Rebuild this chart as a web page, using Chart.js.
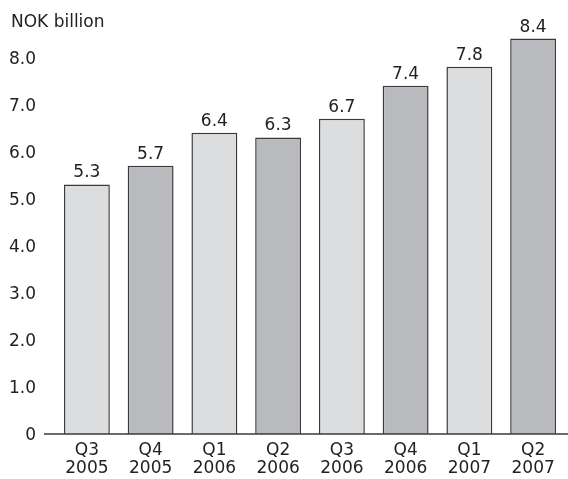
<!DOCTYPE html>
<html>
<head>
<meta charset="utf-8">
<script src="https://cdn.jsdelivr.net/npm/chart.js@4/dist/chart.umd.min.js"></script>
<style>
  html, body { margin: 0; padding: 0; background: #fff; }
  #wrap { width: 568px; height: 479px; position: relative; }
</style>
</head>
<body>
<div id="wrap"><canvas id="quarterChart"></canvas></div>
<script>
const quarters = [['Q3', '2005'], ['Q4', '2005'], ['Q1', '2006'], ['Q2', '2006'],
    ['Q3', '2006'], ['Q4', '2006'], ['Q1', '2007'], ['Q2', '2007']];
const revenue = [5.3, 5.7, 6.4, 6.3, 6.7, 7.4, 7.8, 8.4];
const yTicks = [0, 1, 2, 3, 4, 5, 6, 7, 8];
const unitLabel = 'NOK billion';

const lightFill = '#dcdddf';
const darkFill = '#b9babd';
const edgeColor = '#3a3a3a';
const textColor = '#222222';
const fontFamily = '"DejaVu Sans", sans-serif';

// Value labels above the bars, unit title and the baseline
const extrasPlugin = {
    id: 'extras',
    afterDatasetsDraw(chart) {
        const ctx = chart.ctx;
        const meta = chart.getDatasetMeta(0);
        ctx.save();
        ctx.fillStyle = textColor;
        ctx.font = '17px ' + fontFamily;
        ctx.textAlign = 'center';
        ctx.textBaseline = 'bottom';
        meta.data.forEach((bar, i) => {
            ctx.fillText(revenue[i].toFixed(1), bar.x, bar.y - 3);
        });
        ctx.textAlign = 'left';
        ctx.textBaseline = 'middle';
        ctx.fillText(unitLabel, 11, 23);

        const yZero = chart.scales.y.getPixelForValue(0);
        ctx.strokeStyle = edgeColor;
        ctx.lineWidth = 1.5;
        ctx.beginPath();
        ctx.moveTo(44, yZero);
        ctx.lineTo(chart.width, yZero);
        ctx.stroke();
        ctx.restore();
    }
};

new Chart(document.getElementById('quarterChart'), {
    type: 'bar',
    data: {
        labels: quarters,
        datasets: [{
            data: revenue,
            backgroundColor: revenue.map((v, i) => i % 2 === 0 ? lightFill : darkFill),
            borderColor: edgeColor,
            borderWidth: 1.5,
            borderSkipped: 'bottom',
            barPercentage: 0.72,
            categoryPercentage: 1.0
        }]
    },
    options: {
        responsive: true,
        maintainAspectRatio: false,
        animation: false,
        layout: {
            padding: {top: 29, right: 3, left: 0, bottom: 0}
        },
        plugins: {
            legend: {display: false},
            tooltip: {enabled: false}
        },
        scales: {
            x: {
                grid: {display: false, drawTicks: false},
                border: {display: false},
                ticks: {
                    color: textColor,
                    font: {family: fontFamily, size: 17, lineHeight: 1.08},
                    padding: 7,
                    maxRotation: 0,
                    autoSkip: false
                },
                afterFit: function (scale) {
                    scale.height = 45;
                }
            },
            y: {
                min: 0,
                max: 8.6,
                grid: {display: false, drawTicks: false},
                border: {display: false},
                afterBuildTicks: function (scale) {
                    scale.ticks = yTicks.map(v => ({value: v}));
                },
                ticks: {
                    color: textColor,
                    font: {family: fontFamily, size: 17},
                    padding: 19,
                    labelOffset: 2,
                    callback: function (value) {
                        return value === 0 ? '0' : value.toFixed(1);
                    }
                },
                afterFit: function (scale) {
                    scale.width = 55;
                }
            }
        }
    },
    plugins: [extrasPlugin]
});
</script>
</body>
</html>
